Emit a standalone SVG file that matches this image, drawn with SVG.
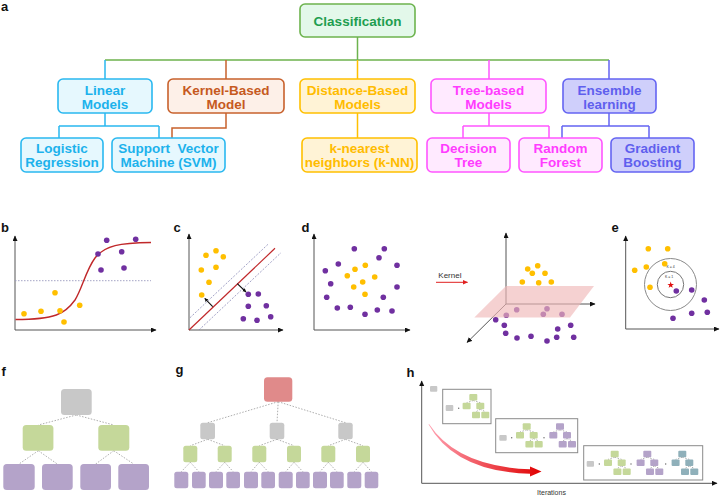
<svg xmlns="http://www.w3.org/2000/svg" xmlns:xlink="http://www.w3.org/1999/xlink" width="720" height="497" viewBox="0 0 720 497">
<style>
.lbl{font-family:"Liberation Sans",Arial,sans-serif;font-weight:bold;font-size:13px;fill:#111}
.t{font-family:"Liberation Sans",Arial,sans-serif;font-weight:bold;font-size:13.5px;text-anchor:middle;white-space:pre}
.box{stroke-width:1.6}
.gr{fill:#e3f8ea;stroke:#6db34e}.grt{fill:#1e9e50}
.cy{fill:#e6f8fe;stroke:#2ab8f0}.cyt{fill:#1cb2ec}
.or{fill:#fdf0e8;stroke:#c8612c}.ort{fill:#c65a1e}
.ye{fill:#fff3d6;stroke:#ffc000}.yet{fill:#ffbc00}
.mg{fill:#ffeaff;stroke:#ff55ff}.mgt{fill:#ff3cff}
.bl{fill:#cfcffb;stroke:#6464f2}.blt{fill:#5f5fee}
.c{fill:none;stroke-width:1.5}
.ax{stroke:#555;stroke-width:1;fill:none;marker-end:url(#ah)}
.y{fill:#ffbf00}.p{fill:#7030a0}
.dl{stroke:#999;stroke-width:0.8;stroke-dasharray:1.5 1.5;fill:none}
.gy{fill:#c8c8c8}.gn{fill:#c5d89a}.pu{fill:#b4a3c9}.rd{fill:#e08a8a}.tl{fill:#8fb0ba}
.sm{font-family:"Liberation Sans",Arial,sans-serif;fill:#333}
.fr{fill:#fff;stroke:#8a8a8a;stroke-width:1}
</style>
<defs>
<marker id="ah" markerUnits="userSpaceOnUse" markerWidth="6" markerHeight="6" refX="5" refY="2.5" orient="auto"><path d="M0,0 L5.5,2.5 L0,5 z" fill="#111"/></marker>
<marker id="ahs" markerUnits="userSpaceOnUse" markerWidth="5" markerHeight="5" refX="3.5" refY="2" orient="auto-start-reverse"><path d="M0,0 L3.5,2 L0,4 z" fill="#111"/></marker>
<marker id="ahr" markerUnits="userSpaceOnUse" markerWidth="6" markerHeight="6" refX="5" refY="2.5" orient="auto"><path d="M0,0 L5.5,2.5 L0,5 z" fill="#e02020"/></marker>
<linearGradient id="rg" x1="0" y1="0" x2="1" y2="0"><stop offset="0" stop-color="#ffa0b0"/><stop offset="1" stop-color="#e00000"/></linearGradient>
<g id="mt">
<path class="dl" d="M4,6.5 L-2.7,8.7 M4,6.5 L11,8.7 M11,15.2 L6.7,17.7 M11,15.2 L16,17.7" stroke-width="0.5"/>
<rect x="0" y="0" width="8" height="6.5" rx="1"/>
<rect x="-6.7" y="8.7" width="8" height="6.5" rx="1"/>
<rect x="7" y="8.7" width="8" height="6.5" rx="1"/>
<rect x="2.7" y="17.7" width="8" height="6.5" rx="1"/>
<rect x="12" y="17.7" width="8" height="6.5" rx="1"/>
</g>
</defs>
<rect width="720" height="497" fill="#fff"/>

<!-- panel a -->
<text class="lbl" x="1" y="11" font-size="12">a</text>
<g id="connectors">
<path class="c" stroke="#6db34e" d="M357.5,37 V60 M105,60 H609"/>
<path class="c" stroke="#2ab8f0" d="M105,60 V79 M105,113 V126 M59,126 H159 M59,126 V138 M159,126 V138"/>
<path class="c" stroke="#c8612c" d="M226,60 V79 M226,113 V128 H172 V138"/>
<path class="c" stroke="#ffc000" d="M357.5,60 V79 M357.5,113 V138"/>
<path class="c" stroke="#ff55ff" d="M489,60 V79 M489,113 V126 M463,126 H549 M463,126 V138 M549,126 V138"/>
<path class="c" stroke="#6464f2" d="M609,60 V79 M609,113 V126 M562,126 H649 M562,126 V138 M649,126 V138"/>
</g>
<g id="classification"><rect class="box gr" x="300" y="4" width="115" height="33" rx="5"/><text class="t grt" x="357.5" y="25.5">Classification</text></g>
<g id="linear"><rect class="box cy" x="58" y="79" width="94" height="34" rx="5"/><text class="t cyt" x="105" y="95">Linear</text><text class="t cyt" x="105" y="109">Models</text></g>
<g id="kernel"><rect class="box or" x="168" y="79" width="116" height="34" rx="5"/><text class="t ort" x="226" y="95">Kernel-Based</text><text class="t ort" x="226" y="109">Model</text></g>
<g id="distance"><rect class="box ye" x="300" y="79" width="115" height="34" rx="5"/><text class="t yet" x="357.5" y="95">Distance-Based</text><text class="t yet" x="357.5" y="109">Models</text></g>
<g id="treebased"><rect class="box mg" x="431" y="79" width="115" height="34" rx="5"/><text class="t mgt" x="488.5" y="95">Tree-based</text><text class="t mgt" x="488.5" y="109">Models</text></g>
<g id="ensemble"><rect class="box bl" x="563" y="79" width="93" height="34" rx="5"/><text class="t blt" x="609.5" y="95">Ensemble</text><text class="t blt" x="609.5" y="109">learning</text></g>
<g id="logistic"><rect class="box cy" x="21" y="138" width="82" height="34" rx="5"/><text class="t cyt" x="62" y="153">Logistic</text><text class="t cyt" x="62" y="167">Regression</text></g>
<g id="svm"><rect class="box cy" x="112" y="138" width="113" height="34" rx="5"/><text class="t cyt" x="168.5" y="153">Support  Vector</text><text class="t cyt" x="168.5" y="167">Machine (SVM)</text></g>
<g id="knn"><rect class="box ye" x="302" y="138" width="115" height="34" rx="5"/><text class="t yet" x="359.5" y="153">k-nearest</text><text class="t yet" x="359.5" y="167">neighbors (k-NN)</text></g>
<g id="decision"><rect class="box mg" x="427" y="138" width="83" height="34" rx="5"/><text class="t mgt" x="468.5" y="153">Decision</text><text class="t mgt" x="468.5" y="167">Tree</text></g>
<g id="random"><rect class="box mg" x="519" y="138" width="83" height="34" rx="5"/><text class="t mgt" x="560.5" y="153">Random</text><text class="t mgt" x="560.5" y="167">Forest</text></g>
<g id="gradient"><rect class="box bl" x="611" y="138" width="83" height="34" rx="5"/><text class="t blt" x="652.5" y="153">Gradient</text><text class="t blt" x="652.5" y="167">Boosting</text></g>

<!-- panel b -->
<text class="lbl" x="1" y="232">b</text>
<path class="ax" d="M15,330 V236"/>
<path class="ax" d="M15,330 H156"/>
<path d="M15,280.7 H151" stroke="#9a9ac0" stroke-width="0.9" stroke-dasharray="1.5 1.5"/>
<path d="M15.5,319.5 C55,319.5 65,314 75,300 C82,289 86,270 95,258 C105,245 120,243 151,242.5" fill="none" stroke="#c0282a" stroke-width="1.4"/>
<g class="y"><circle cx="24" cy="313.7" r="2.8"/><circle cx="41" cy="311.3" r="2.8"/><circle cx="55" cy="292.7" r="2.8"/><circle cx="60" cy="310.7" r="2.8"/><circle cx="64" cy="322" r="2.8"/><circle cx="79.7" cy="305.3" r="2.8"/></g>
<g class="p"><circle cx="106.7" cy="240.3" r="2.8"/><circle cx="135.7" cy="239.3" r="2.8"/><circle cx="98" cy="254" r="2.8"/><circle cx="121.7" cy="251.7" r="2.8"/><circle cx="101" cy="270" r="2.8"/><circle cx="124" cy="268" r="2.8"/></g>

<!-- panel c -->
<text class="lbl" x="173.5" y="232">c</text>
<path class="ax" d="M189,330 V234"/>
<path class="ax" d="M189,330 H283"/>
<path d="M190,317.7 L268,244.3 M199,330 L281,252.7" stroke="#8a8ab8" stroke-width="0.8" stroke-dasharray="2 1.5"/>
<path d="M189,330 L275,248.3" stroke="#c0282a" stroke-width="1.2"/>
<path d="M204.7,298.3 L212.7,306.7 M237.3,283.7 L246,292" stroke="#111" stroke-width="1.1" marker-start="url(#ahs)" marker-end="url(#ahs)"/>
<g class="y"><circle cx="206" cy="255.3" r="2.8"/><circle cx="216" cy="250.7" r="2.8"/><circle cx="223.3" cy="256.7" r="2.8"/><circle cx="201.3" cy="270" r="2.8"/><circle cx="216" cy="267.3" r="2.8"/><circle cx="209" cy="282.3" r="2.8"/><circle cx="201.7" cy="295" r="2.8"/></g>
<g class="p"><circle cx="248.3" cy="294.3" r="2.8"/><circle cx="258.3" cy="294" r="2.8"/><circle cx="248.3" cy="306.3" r="2.8"/><circle cx="266.3" cy="305.7" r="2.8"/><circle cx="243.3" cy="318.7" r="2.8"/><circle cx="257" cy="320.3" r="2.8"/><circle cx="270.7" cy="316.7" r="2.8"/></g>

<!-- panel d -->
<text class="lbl" x="301.5" y="232">d</text>
<path class="ax" d="M314,330 V234"/>
<path class="ax" d="M314,330 H410"/>
<g class="p"><circle cx="354.3" cy="248.7" r="2.8"/><circle cx="384.3" cy="248.7" r="2.8"/><circle cx="379" cy="257.7" r="2.8"/><circle cx="338.3" cy="264" r="2.8"/><circle cx="325.3" cy="270.7" r="2.8"/><circle cx="397" cy="265.3" r="2.8"/><circle cx="330.7" cy="283.7" r="2.8"/><circle cx="397" cy="287" r="2.8"/><circle cx="326.7" cy="297.3" r="2.8"/><circle cx="383.3" cy="297.3" r="2.8"/><circle cx="337.3" cy="308" r="2.8"/><circle cx="350.3" cy="307.3" r="2.8"/><circle cx="365" cy="314.3" r="2.8"/><circle cx="377.3" cy="310" r="2.8"/><circle cx="392" cy="311" r="2.8"/></g>
<g class="y"><circle cx="355" cy="269.3" r="2.8"/><circle cx="365.3" cy="265.3" r="2.8"/><circle cx="347.3" cy="275.7" r="2.8"/><circle cx="362.7" cy="282" r="2.8"/><circle cx="374.7" cy="277" r="2.8"/><circle cx="353.7" cy="287" r="2.8"/><circle cx="365" cy="294.3" r="2.8"/></g>
<text class="sm" x="438.3" y="277.5" font-size="8">Kernel</text>
<path d="M436,282.3 H467.5" stroke="#e02020" stroke-width="1" marker-end="url(#ahr)"/>
<path class="ax" d="M506,304 V233"/>
<path class="ax" d="M506,304 H595"/>
<path class="ax" d="M506,304 L467,342.5" stroke="#3a2050"/>
<g fill="#7030a0"><circle cx="516.7" cy="309.7" r="2.8"/><circle cx="506.3" cy="315.3" r="2.8"/><circle cx="547" cy="308.7" r="2.8"/><circle cx="543.3" cy="314.3" r="2.8"/><circle cx="562" cy="314.3" r="2.8"/></g>
<path d="M506,286 L594,286 L570,317.5 L474.3,317.5 Z" fill="#f0b8b8" fill-opacity="0.65"/>
<g class="y"><circle cx="537.7" cy="265.7" r="2.8"/><circle cx="527.7" cy="269" r="2.8"/><circle cx="532.3" cy="273.3" r="2.8"/><circle cx="545" cy="273.3" r="2.8"/><circle cx="522.3" cy="282" r="2.8"/><circle cx="538.7" cy="282.7" r="2.8"/><circle cx="551.3" cy="282" r="2.8"/></g>
<g class="p"><circle cx="495.7" cy="319.7" r="2.8"/><circle cx="504.3" cy="325.3" r="2.8"/><circle cx="505.7" cy="333.3" r="2.8"/><circle cx="517" cy="338" r="2.8"/><circle cx="531" cy="336.3" r="2.8"/><circle cx="547" cy="341" r="2.8"/><circle cx="556.7" cy="337.3" r="2.8"/><circle cx="557.7" cy="329" r="2.8"/><circle cx="570.7" cy="325.3" r="2.8"/><circle cx="573.7" cy="337.3" r="2.8"/></g>

<!-- panel e -->
<text class="lbl" x="611.5" y="232">e</text>
<path class="ax" d="M625.7,329 V236"/>
<path class="ax" d="M625.7,329 H719"/>
<circle cx="670.5" cy="284.5" r="26" fill="none" stroke="#8a8a8a" stroke-width="1"/>
<circle cx="670.5" cy="284.5" r="13.2" fill="none" stroke="#777" stroke-width="1"/>
<text class="sm" x="666.5" y="267.5" font-size="3.5">K = 4</text>
<text class="sm" x="665" y="278" font-size="3.5">K = 1</text>
<polygon points="670.7,281.5 671.5,283.9 674,283.9 672,285.4 672.8,287.8 670.7,286.4 668.6,287.8 669.4,285.4 667.4,283.9 669.9,283.9" fill="#e01010"/>
<g class="y"><circle cx="648.3" cy="248.7" r="2.8"/><circle cx="667.7" cy="248.7" r="2.8"/><circle cx="634.7" cy="270.3" r="2.8"/><circle cx="646.3" cy="267" r="2.8"/><circle cx="664.7" cy="263.7" r="2.8"/><circle cx="650" cy="287.3" r="2.8"/></g>
<g class="p"><circle cx="676.3" cy="291" r="2.8"/><circle cx="691.7" cy="290" r="2.8"/><circle cx="704.3" cy="300" r="2.8"/><circle cx="691.7" cy="313.3" r="2.8"/><circle cx="707.3" cy="312.3" r="2.8"/><circle cx="673" cy="318.3" r="2.8"/></g>

<!-- panel f -->
<text class="lbl" x="1.5" y="376">f</text>
<path class="dl" d="M76.3,415 L38.3,425 M76.3,415 L113.8,425 M38.3,450.7 L19,464 M38.3,450.7 L57.3,464 M113.8,450.7 L95.7,464 M113.8,450.7 L133.7,464"/>
<rect class="gy" x="61" y="389" width="30.7" height="26" rx="3.5"/>
<rect class="gn" x="22.7" y="425" width="30.7" height="25.7" rx="3.5"/>
<rect class="gn" x="98.3" y="425" width="31" height="25.7" rx="3.5"/>
<g class="pu"><rect x="3.3" y="464" width="31.4" height="26" rx="3.5"/><rect x="42" y="464" width="30.7" height="26" rx="3.5"/><rect x="80.3" y="464" width="30.7" height="26" rx="3.5"/><rect x="118.3" y="464" width="30.7" height="26" rx="3.5"/></g>

<!-- panel g -->
<text class="lbl" x="175.5" y="373.5">g</text>
<path class="dl" d="M278.2,401.7 L207.7,422.7 M278.2,401.7 L277,422.7 M278.2,401.7 L345.5,422.7 M207.7,439.3 L190.3,445.7 M207.7,439.3 L224.7,445.7 M277,439.3 L259.3,445.7 M277,439.3 L294,445.7 M345.5,439.3 L328.3,445.7 M345.5,439.3 L363,445.7 M190.3,462.3 L181.3,471.7 M190.3,462.3 L198.9,471.7 M224.7,462.3 L216,471.7 M224.7,462.3 L233.2,471.7 M259.3,462.3 L251,471.7 M259.3,462.3 L268.2,471.7 M294,462.3 L285.7,471.7 M294,462.3 L302.9,471.7 M328.3,462.3 L320,471.7 M328.3,462.3 L336.9,471.7 M363,462.3 L354.3,471.7 M363,462.3 L371.5,471.7"/>
<rect class="rd" x="264" y="377.3" width="28.3" height="24.4" rx="3.5"/>
<g class="gy"><rect x="200.3" y="422.7" width="14.7" height="16.6" rx="2.5"/><rect x="269.7" y="422.7" width="14.6" height="16.6" rx="2.5"/><rect x="338.3" y="422.7" width="14.4" height="16.6" rx="2.5"/></g>
<g class="gn"><rect x="183.3" y="445.7" width="14" height="16.6" rx="2.5"/><rect x="217.7" y="445.7" width="14" height="16.6" rx="2.5"/><rect x="252.3" y="445.7" width="14" height="16.6" rx="2.5"/><rect x="287" y="445.7" width="14" height="16.6" rx="2.5"/><rect x="321.3" y="445.7" width="14" height="16.6" rx="2.5"/><rect x="356" y="445.7" width="14" height="16.6" rx="2.5"/></g>
<g class="pu"><rect x="174.3" y="471.7" width="14" height="16.6" rx="2.5"/><rect x="192" y="471.7" width="13.7" height="16.6" rx="2.5"/><rect x="209" y="471.7" width="14" height="16.6" rx="2.5"/><rect x="226.3" y="471.7" width="13.7" height="16.6" rx="2.5"/><rect x="244" y="471.7" width="14" height="16.6" rx="2.5"/><rect x="261.3" y="471.7" width="13.7" height="16.6" rx="2.5"/><rect x="278.7" y="471.7" width="14" height="16.6" rx="2.5"/><rect x="296" y="471.7" width="13.7" height="16.6" rx="2.5"/><rect x="313" y="471.7" width="14" height="16.6" rx="2.5"/><rect x="330" y="471.7" width="13.7" height="16.6" rx="2.5"/><rect x="347.3" y="471.7" width="14" height="16.6" rx="2.5"/><rect x="364.7" y="471.7" width="13.6" height="16.6" rx="2.5"/></g>

<!-- panel h -->
<text class="lbl" x="406.5" y="377">h</text>
<path class="ax" d="M421.7,483.3 V381"/>
<path class="ax" d="M421.7,483.3 H717"/>
<text class="sm" x="551.5" y="494.5" font-size="7" text-anchor="middle">Iterations</text>
<rect class="gy" x="430" y="386" width="7.3" height="5.7" rx="1"/>
<path d="M429,424 Q457,466.5 530,469.3 L530,466.5 L541.5,471.6 L530,476.6 L530,473.8 Q455,471.5 428.6,424.4 Z" fill="url(#rg)"/>
<rect class="fr" x="442.7" y="389.3" width="48.3" height="34.4"/>
<rect class="fr" x="495.7" y="418.7" width="82" height="34"/>
<rect class="fr" x="583.7" y="445.7" width="119" height="34.3"/>
<g fill="#666"><circle cx="458.7" cy="408.3" r="0.7"/><circle cx="511.7" cy="437.7" r="0.7"/><circle cx="544" cy="437.7" r="0.7"/><circle cx="599.3" cy="464" r="0.7"/><circle cx="631" cy="464" r="0.7"/><circle cx="665.7" cy="464" r="0.7"/></g>
<g class="gy"><rect x="445.7" y="405" width="7.6" height="6" rx="1"/><rect x="499.3" y="435" width="7.4" height="5.7" rx="1"/><rect x="586.7" y="461" width="7.3" height="5.7" rx="1"/></g>
<use xlink:href="#mt" href="#mt" x="469.3" y="394" class="gn"/>
<use xlink:href="#mt" href="#mt" x="522.7" y="423.3" class="gn"/>
<use xlink:href="#mt" href="#mt" x="556" y="423.3" class="pu"/>
<use xlink:href="#mt" href="#mt" x="610.7" y="450.7" class="gn"/>
<use xlink:href="#mt" href="#mt" x="643.3" y="450.7" class="pu"/>
<use xlink:href="#mt" href="#mt" x="678.3" y="450.7" class="tl"/>
</svg>
